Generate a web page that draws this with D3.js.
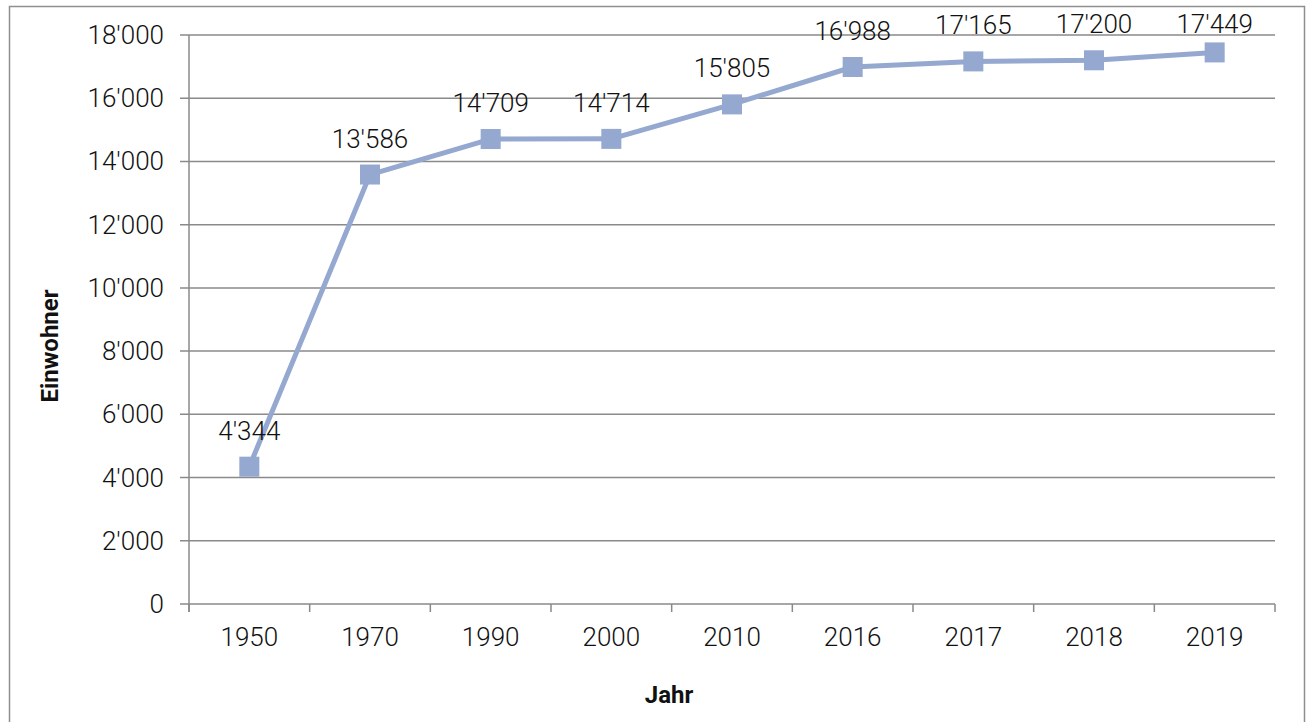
<!DOCTYPE html>
<html>
<head>
<meta charset="utf-8">
<script src="https://cdn.jsdelivr.net/npm/d3@7"></script>
<style>
  html, body { margin: 0; padding: 0; background: #fff; }
  svg { display: block; }
  text { font-family: "Roboto", "Liberation Sans", sans-serif; fill: #111; }
</style>
</head>
<body>
<svg id="chart" width="1310" height="722"></svg>
<script>
const years = ["1950", "1970", "1990", "2000", "2010", "2016", "2017", "2018", "2019"];
const population = [4344, 13586, 14709, 14714, 15805, 16988, 17165, 17200, 17449];
const yTicks = [0, 2000, 4000, 6000, 8000, 10000, 12000, 14000, 16000, 18000];
const xTitle = "Jahr";
const yTitle = "Einwohner";

(function () {
const locale = d3.formatLocale({ decimal: ".", thousands: "'", grouping: [3], currency: ["", ""] });
const fmt = locale.format(",d");

const svg = d3.select("#chart");
const pLeft = 189, pRight = 1275, pTop = 35, pBottom = 604;
const fs = 26;

const x = d3.scaleBand().domain(years).range([pLeft, pRight]).padding(0);
const y = d3.scaleLinear().domain([0, 18000]).range([pBottom, pTop]);

const gridColor = "#8a8a8a";
const lineColor = "#94a8d0";

// outer frame
svg.append("rect")
  .attr("x", 9.5).attr("y", 6.5).attr("width", 1295).attr("height", 740)
  .attr("fill", "none").attr("stroke", "#8f8f8f").attr("stroke-width", 1.5);

// gridlines + y ticks
const gy = svg.append("g");
gy.selectAll("line").data(yTicks).join("line")
  .attr("x1", pLeft - 9).attr("x2", pRight)
  .attr("y1", d => y(d)).attr("y2", d => y(d))
  .attr("stroke", gridColor).attr("stroke-width", 1.5);
gy.selectAll("text").data(yTicks).join("text")
  .attr("x", 164).attr("y", d => y(d) + 9)
  .attr("text-anchor", "end")
  .attr("font-size", fs).attr("font-weight", 300)
  .text(d => fmt(d));

// y axis line
svg.append("line")
  .attr("x1", pLeft).attr("x2", pLeft).attr("y1", pTop).attr("y2", pBottom + 8)
  .attr("stroke", gridColor).attr("stroke-width", 1.5);

// x tick marks at band boundaries
const bounds = years.map(d => x(d)).concat([pRight]);
svg.append("g").selectAll("line").data(bounds).join("line")
  .attr("x1", d => d).attr("x2", d => d)
  .attr("y1", pBottom).attr("y2", pBottom + 8)
  .attr("stroke", gridColor).attr("stroke-width", 1.5);

// x labels
svg.append("g").selectAll("text").data(years).join("text")
  .attr("x", d => x(d) + x.bandwidth() / 2).attr("y", 646)
  .attr("text-anchor", "middle")
  .attr("font-size", fs).attr("font-weight", 300)
  .text(d => d);

// line
const pts = years.map((d, i) => [x(d) + x.bandwidth() / 2, y(population[i])]);
svg.append("path")
  .attr("d", d3.line()(pts))
  .attr("fill", "none").attr("stroke", lineColor).attr("stroke-width", 5)
  .attr("stroke-linejoin", "round");

// markers
svg.append("g").selectAll("rect").data(pts).join("rect")
  .attr("x", d => d[0] - 10).attr("y", d => d[1] - 10)
  .attr("width", 20).attr("height", 20)
  .attr("fill", lineColor);

// data labels (kept inside the frame, as in the reference)
svg.append("g").selectAll("text").data(population).join("text")
  .attr("x", (d, i) => pts[i][0]).attr("y", (d, i) => Math.max(pts[i][1] - 27, 33))
  .attr("text-anchor", "middle")
  .attr("font-size", fs).attr("font-weight", 300)
  .text(d => fmt(d));

// axis titles
svg.append("text")
  .attr("x", 669).attr("y", 703)
  .attr("text-anchor", "middle")
  .attr("font-family", "Liberation Sans, Arial, sans-serif")
  .attr("font-size", 24).attr("font-weight", "bold")
  .text(xTitle);

svg.append("text")
  .attr("transform", "translate(58,346) rotate(-90)")
  .attr("text-anchor", "middle")
  .attr("font-family", "Liberation Sans, Arial, sans-serif")
  .attr("font-size", 24).attr("font-weight", "bold")
  .text(yTitle);
})();
</script>
</body>
</html>
